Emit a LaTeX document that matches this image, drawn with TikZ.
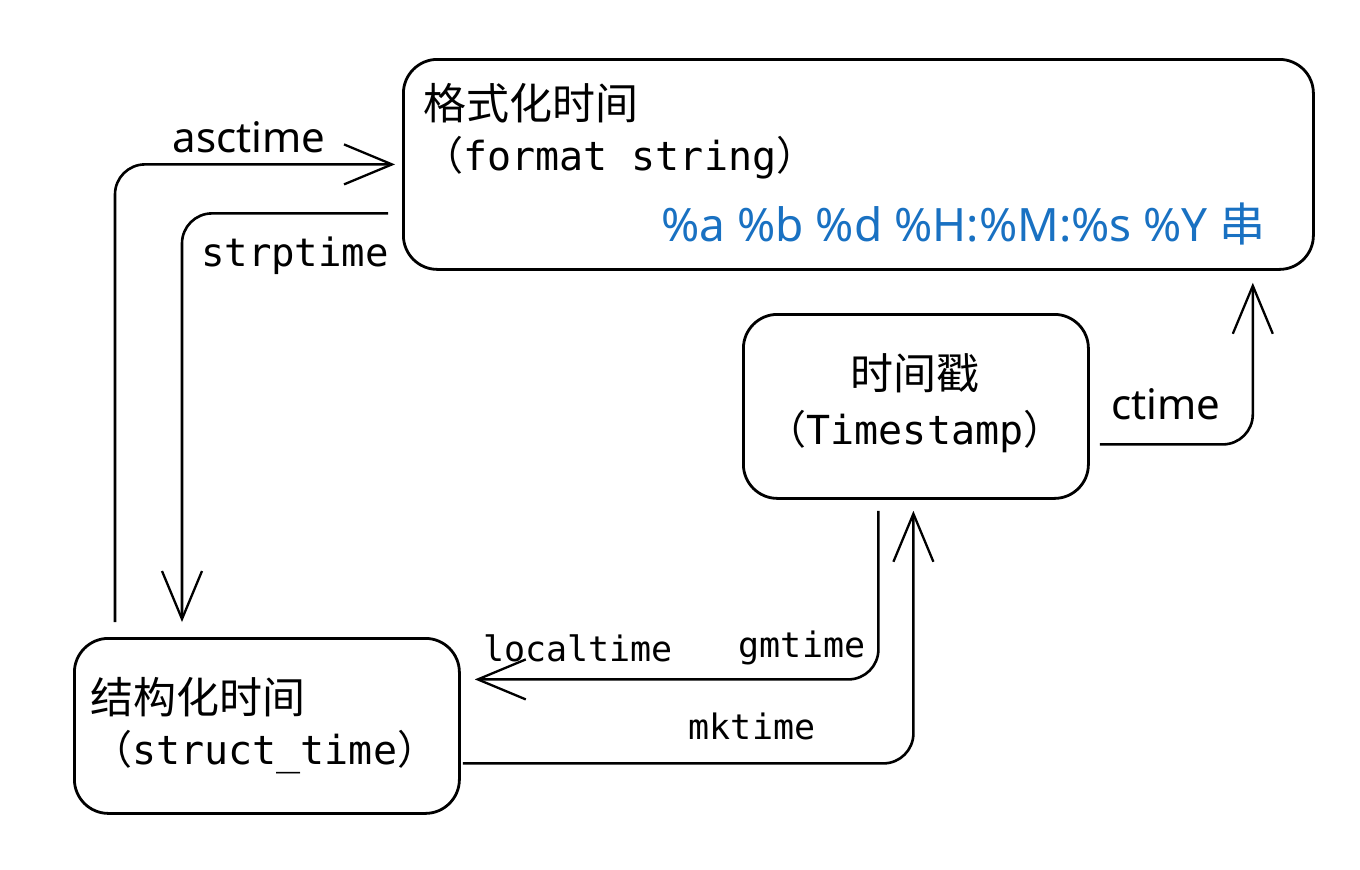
\documentclass[tikz,border=0pt]{standalone}
\usepackage{fontspec}
\setmainfont{Noto Sans}
\setmonofont{DejaVu Sans Mono}
\newfontfamily\cjk{Noto Sans CJK SC}
\usetikzlibrary{arrows.meta}
\definecolor{fmtblue}{HTML}{1971C2}

\begin{document}
\begin{tikzpicture}[x=1pt, y=-1pt,
			box/.style={
				draw, line width=2.8pt, rounded corners=34pt,
				anchor=north west, inner sep=0pt
			},
			conn/.style={
				line width=2.6pt, rounded corners=30pt,
				-{Straight Barb[length=48pt, width=40pt, line width=2.3pt]}
			},
			cjk label/.style={font=\cjk\fontsize{43}{50}\selectfont, inner sep=0pt},
			code label/.style={font=\ttfamily\fontsize{40}{48}\selectfont, inner sep=0pt},
			call label/.style={font=\ttfamily\fontsize{35}{42}\selectfont, inner sep=0pt},
			func label/.style={font=\fontsize{42}{50}\selectfont, inner sep=0pt}
			]
			\useasboundingbox (0,0) rectangle (1360,870);
			
			% the three boxes
			\node[box, minimum width=910pt, minimum height=210pt] (fmt) at (402,58) {};
			\node[box, minimum width=345pt, minimum height=184pt] (ts) at (742,313) {};
			\node[box, minimum width=385pt, minimum height=175pt] (st) at (73,637) {};
			
			\node[cjk label, anchor=west] (fmtcn) at (423,103) {格式化时间};
			\node[code label, anchor=west] (fmten) at (423,158) {{\cjk （}format string{\cjk ）}};
			\node[func label, anchor=east, text=fmtblue, font=\fontsize{46}{54}\selectfont] (fmtpat) at (1266,224) {\%a \%b \%d \%H:\%M:\%s \%Y {\cjk 串}};
			
			\node[cjk label] (tscn) at (915,373) {时间戳};
			\node[code label] (tsen) at (915,432) {{\cjk （}Timestamp{\cjk ）}};
			
			\node[cjk label, anchor=west] (stcn) at (90,697) {结构化时间};
			\node[code label, anchor=west] (sten) at (92,752) {{\cjk （}struct\_time{\cjk ）}};
			
			% conversions
			\draw[conn] ([shift={(42pt,15pt)}]st.north west) |- ([xshift=-7pt]fmt.west);
			\draw[conn] ([shift={(-14pt,-49pt)}]fmt.west) -| ([shift={(109pt,15pt)}]st.north west);
			\draw[conn] ([shift={(10pt,-38pt)}]ts.east) -| ([shift={(-62pt,-12pt)}]fmt.south east);
			\draw[conn] ([shift={(-37.5pt,-11pt)}]ts.south) |- ([shift={(14pt,46.5pt)}]st.east);
			\draw[conn] ([shift={(2pt,-37.5pt)}]st.east) -| ([shift={(-2.5pt,-11pt)}]ts.south);
			
			\node[func label] (asc) at (249,137) {asctime};
			\node[code label, font=\ttfamily\fontsize{39}{46}\selectfont] (strp) at (295,256) {strptime};
			\node[func label] (ct) at (1166,404) {ctime};
			\node[call label] (lt) at (578,648) {localtime};
			\node[call label] (gm) at (802,648) {gmtime};
			\node[call label] (mk) at (752,726) {mktime};
			
		\end{tikzpicture}
\end{document}
